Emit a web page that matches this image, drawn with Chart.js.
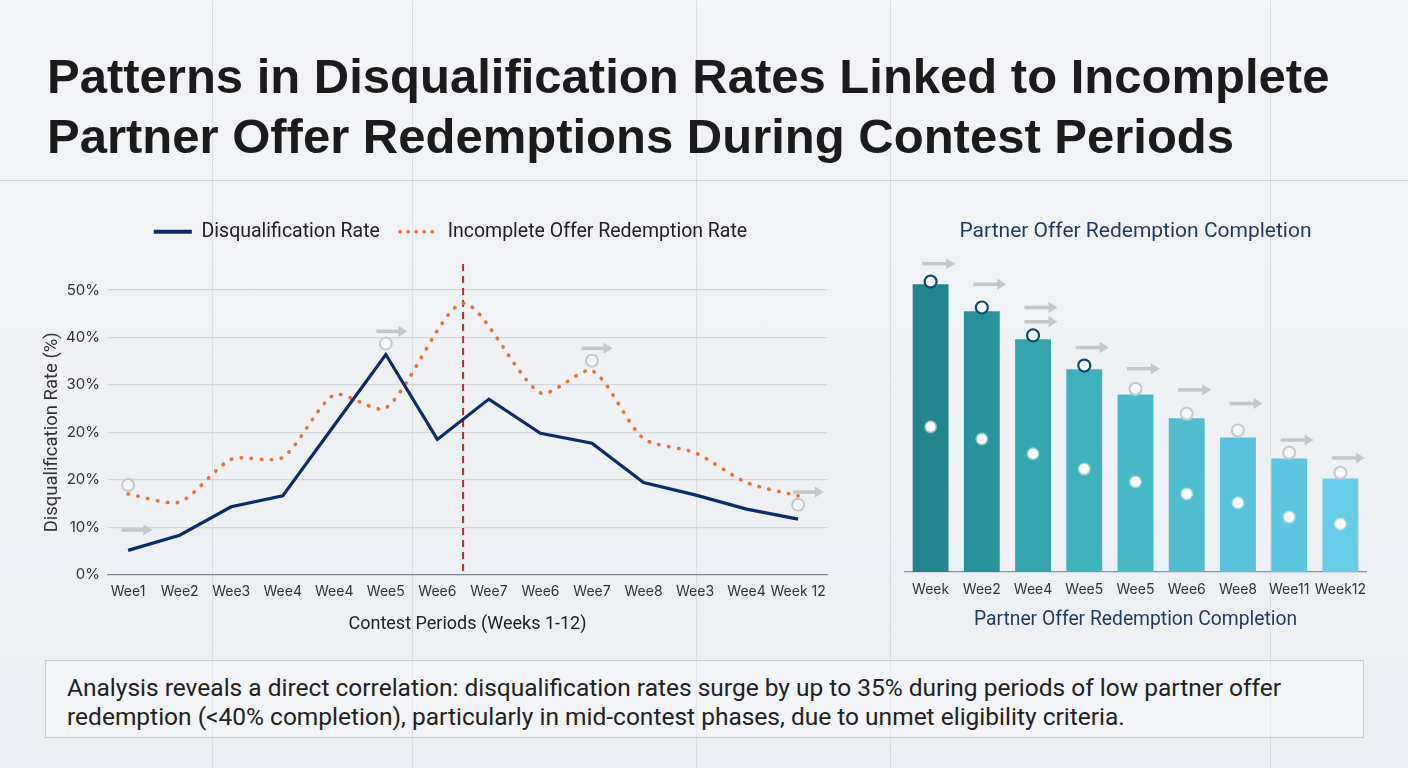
<!DOCTYPE html>
<html lang="en">
<head>
<meta charset="UTF-8">
<title>Disqualification Rates vs Partner Offer Redemptions</title>
<script src="https://cdn.jsdelivr.net/npm/chart.js"></script>
<style>
  body { margin: 0; width: 1408px; height: 768px; position: relative; overflow: hidden;
         background: linear-gradient(180deg, #f2f4f7 0%, #eceff3 100%); font-family: Roboto, sans-serif; }
  .vline { position: absolute; top: 0; bottom: 0; width: 1px; background: rgba(140, 150, 162, 0.2); }
  .hline { position: absolute; left: 0; right: 0; top: 180px; height: 1px; background: rgba(140, 150, 162, 0.3); }
  h1 { position: absolute; left: 47px; top: 46px; margin: 0; font: bold 49px/60px "Liberation Sans", Arial, sans-serif;
       color: #1b1b1b; }
  #lineWrap { position: absolute; left: 40px; top: 200px; width: 826px; height: 440px; }
  #barWrap { position: absolute; left: 870px; top: 205px; width: 516px; height: 431px; }
  .note { position: absolute; left: 45px; top: 660px; width: 1296px; height: 54px; padding: 12px 0 10px 21px;
          border: 1px solid #c9cdd2; background: rgba(255, 255, 255, 0.35); color: #222;
          font: 24.5px/29px Roboto, sans-serif; }
</style>
</head>
<body>
<div class="vline" style="left:212px"></div>
<div class="vline" style="left:412px"></div>
<div class="vline" style="left:696px"></div>
<div class="vline" style="left:890px"></div>
<div class="vline" style="left:1270px"></div>
<div class="hline"></div>

<h1>Patterns in Disqualification Rates Linked to Incomplete<br>Partner Offer Redemptions During Contest Periods</h1>

<div id="lineWrap"><canvas id="lineChart"></canvas></div>
<div id="barWrap"><canvas id="barChart"></canvas></div>

<div class="note">Analysis reveals a direct correlation: disqualification rates surge by up to 35% during periods of low partner offer<br>redemption (&lt;40% completion), particularly in mid-contest phases, due to unmet eligibility criteria.</div>

<script>
// left chart
const weekLabels = ['Wee1', 'Wee2', 'Wee3', 'Wee4', 'Wee4', 'Wee5', 'Wee6', 'Wee7', 'Wee6', 'Wee7', 'Wee8', 'Wee3', 'Wee4', 'Week 12'];
const yTickLabels = ['0%', '10%', '20%', '20%', '30%', '40%', '50%'];
const disqRate = [5.1, 8.3, 14.3, 16.6, 31.5, 46.4, 28.5, 37.0, 29.8, 27.7, 19.4, 16.8, 13.8, 11.7];
const offerPos = [0, 1, 2, 3, 4, 5, 6.5, 8, 9, 10, 11, 12, 13];
const offerRate = [17.0, 15.3, 24.3, 24.7, 37.9, 35.1, 57.2, 38.3, 43.0, 28.7, 25.7, 19.4, 16.6];
const markerPos = [0, 5, 9, 13];
const markerVal = [18.9, 48.7, 45.1, 14.7];
const arrowPos = [0.17, 5.12, 9.1, 13.2];
const arrowVal = [9.4, 51.3, 47.7, 17.4];
const cutoffPos = 6.5;

// right chart
const barLabels = ['Week', 'Wee2', 'Wee4', 'Wee5', 'Wee5', 'Wee6', 'Wee8', 'Wee11', 'Week12'];
const completion = [54.5, 49.4, 44.1, 38.4, 33.6, 29.1, 25.5, 21.5, 17.7];
const completionTop = [55.0, 50.1, 44.8, 39.1, 34.7, 30.0, 26.8, 22.6, 18.8];
const completionMid = [27.5, 25.2, 22.4, 19.5, 17.1, 14.8, 13.1, 10.4, 9.1];
const barArrowIdx = [0, 1, 2, 2, 3, 4, 5, 6, 7, 8];
const barArrowVal = [58.4, 54.5, 50.1, 47.4, 42.5, 38.5, 34.5, 31.9, 25.0, 21.6];

const barColors = ['#22858e', '#29939b', '#35a6ae', '#3eb1ba', '#47b9c6', '#4fbdce', '#58c2da', '#5fc6e1', '#68cbe7'];

function drawArrow(ctx, cx, cy, len) {
    ctx.save();
    ctx.strokeStyle = '#c3c7cc';
    ctx.fillStyle = '#c3c7cc';
    ctx.lineWidth = 3.5;
    ctx.beginPath();
    ctx.moveTo(cx - len / 2, cy);
    ctx.lineTo(cx + len / 2 - 7, cy);
    ctx.stroke();
    ctx.beginPath();
    ctx.moveTo(cx + len / 2, cy);
    ctx.lineTo(cx + len / 2 - 9, cy - 5.5);
    ctx.lineTo(cx + len / 2 - 9, cy + 5.5);
    ctx.closePath();
    ctx.fill();
    ctx.restore();
}

function arrowPlugin(pos, val, shift, len) {
    return {
        id: 'arrows',
        afterDatasetsDraw(chart) {
            const { ctx, scales: { x, y } } = chart;
            pos.forEach((p, i) => drawArrow(ctx, x.getPixelForValue(p) + shift, y.getPixelForValue(val[i]), len));
        }
    };
}

const cutoffLine = {
    id: 'cutoff',
    beforeDatasetsDraw(chart) {
        const { ctx, chartArea, scales: { x } } = chart;
        const px = x.getPixelForValue(cutoffPos);
        ctx.save();
        ctx.strokeStyle = '#c0262d';
        ctx.lineWidth = 2;
        ctx.setLineDash([7, 5]);
        ctx.beginPath();
        ctx.moveTo(px, chartArea.top - 26);
        ctx.lineTo(px, chartArea.bottom);
        ctx.stroke();
        ctx.restore();
    }
};

// legend: taller box and nudged right so it sits above the plot centre
const legendGap = {
    id: 'legendGap',
    beforeInit(chart) {
        const fit = chart.legend.fit;
        chart.legend.fit = function () {
            fit.bind(chart.legend)();
            this.height = 88;
        };
    },
    afterLayout(chart) {
        chart.legend.left += 17;
        chart.legend.right += 17;
    }
};

const tickFont = { family: 'Inter', size: 14 };

new Chart(document.getElementById('lineChart'), {
    type: 'line',
    data: {
        datasets: [
            {
                label: 'Markers',
                data: markerPos.map((p, i) => ({ x: p, y: markerVal[i] })),
                showLine: false,
                pointRadius: 6,
                pointBorderWidth: 2,
                pointBackgroundColor: '#f6f7f9',
                pointBorderColor: '#c4c8cd'
            },
            {
                label: 'Disqualification Rate',
                data: disqRate.map((v, i) => ({ x: i, y: v })),
                borderColor: '#0c2c69',
                backgroundColor: '#0c2c69',
                borderWidth: 3.2,
                pointRadius: 0,
                pointStyle: 'line',
                tension: 0
            },
            {
                label: 'Incomplete Offer Redemption Rate',
                data: offerPos.map((p, i) => ({ x: p, y: offerRate[i] })),
                borderColor: '#e8733a',
                backgroundColor: '#e8733a',
                borderWidth: 3.6,
                borderDash: [0.5, 9.5],
                borderCapStyle: 'round',
                pointRadius: 0,
                pointStyle: 'line',
                tension: 0.25
            }
        ]
    },
    options: {
        responsive: true,
        maintainAspectRatio: false,
        animation: false,
        layout: { padding: { top: 2, right: 39, bottom: 5, left: 0 } },
        plugins: {
            tooltip: { enabled: false },
            legend: {
                labels: {
                    filter: item => item.datasetIndex > 0,
                    generateLabels(chart) {
                        const items = Chart.defaults.plugins.legend.labels.generateLabels(chart);
                        items.forEach(item => {
                            const ds = chart.data.datasets[item.datasetIndex];
                            item.lineDash = ds.borderDash ? [0.5, 7.5] : [];
                            item.lineCap = ds.borderDash ? 'round' : 'butt';
                            item.lineWidth = ds.borderDash ? 3.4 : 4;
                        });
                        return items;
                    },
                    usePointStyle: true,
                    pointStyleWidth: 38,
                    padding: 20,
                    color: '#222',
                    font: { family: 'Roboto', size: 19.5 }
                }
            }
        },
        scales: {
            x: {
                type: 'linear',
                min: -0.39,
                max: 13.56,
                afterBuildTicks(scale) {
                    scale.ticks = weekLabels.map((_, i) => ({ value: i }));
                },
                ticks: {
                    autoSkip: false,
                    maxRotation: 0,
                    padding: 9,
                    color: '#333',
                    font: tickFont,
                    callback: v => weekLabels[v]
                },
                grid: { display: false, drawTicks: false },
                border: { display: true, color: '#80858b', width: 1.2 },
                title: {
                    display: true,
                    text: 'Contest Periods (Weeks 1-12)',
                    color: '#222',
                    font: { family: 'Roboto', size: 18 },
                    padding: { top: 4, bottom: 0 }
                }
            },
            y: {
                min: 0,
                max: 60,
                afterFit(scale) { scale.width = 68; },
                ticks: {
                    stepSize: 10,
                    padding: 8,
                    color: '#333',
                    font: { family: 'Inter', size: 15 },
                    callback: v => yTickLabels[Math.round(v / 10)]
                },
                grid: {
                    drawTicks: false,
                    color: c => c.tick.value === 0 ? 'rgba(0,0,0,0)' : '#d3d7db',
                    lineWidth: 1.2
                },
                border: { display: false },
                title: {
                    display: true,
                    text: 'Disqualification Rate (%)',
                    color: '#333',
                    font: { family: 'Roboto', size: 18.5 },
                    padding: { top: 1, bottom: 0 }
                }
            }
        }
    },
    plugins: [legendGap, cutoffLine, arrowPlugin(arrowPos, arrowVal, 0, 31)]
});

new Chart(document.getElementById('barChart'), {
    type: 'bar',
    data: {
        labels: barLabels,
        datasets: [
            {
                type: 'line',
                data: completionTop,
                showLine: false,
                pointRadius: 6,
                pointBorderWidth: 2.2,
                pointBackgroundColor: '#f7f9fb',
                pointBorderColor: completionTop.map((_, i) => i < 4 ? '#0f4a6c' : '#c6cbd0'),
                order: 0
            },
            {
                type: 'line',
                data: completionMid,
                showLine: false,
                pointRadius: 5,
                pointBorderWidth: 3,
                pointBackgroundColor: '#ffffff',
                pointBorderColor: 'rgba(255,255,255,0.45)',
                order: 0
            },
            {
                data: completion,
                backgroundColor: barColors,
                barPercentage: 0.7,
                categoryPercentage: 1,
                order: 1
            }
        ]
    },
    options: {
        responsive: true,
        maintainAspectRatio: false,
        animation: false,
        layout: { padding: { top: 0, right: 20, bottom: 4, left: 35 } },
        plugins: {
            tooltip: { enabled: false },
            legend: { display: false },
            title: {
                display: true,
                text: 'Partner Offer Redemption Completion',
                color: '#1d3a5f',
                font: { family: 'Roboto', size: 21, weight: 'normal' },
                padding: { top: 14, bottom: 11 }
            }
        },
        scales: {
            x: {
                ticks: { autoSkip: false, maxRotation: 0, minRotation: 0, padding: 9, color: '#333', font: tickFont },
                grid: { display: false, drawTicks: false },
                border: { display: true, color: '#8a8f95', width: 1.2 },
                title: {
                    display: true,
                    text: 'Partner Offer Redemption Completion',
                    color: '#1d3a5f',
                    font: { family: 'Roboto', size: 19.3 },
                    padding: { top: 2, bottom: 0 }
                }
            },
            y: { display: false, min: 0, max: 60 }
        }
    },
    plugins: [arrowPlugin(barArrowIdx, barArrowVal, 8, 33)]
});
</script>
</body>
</html>
